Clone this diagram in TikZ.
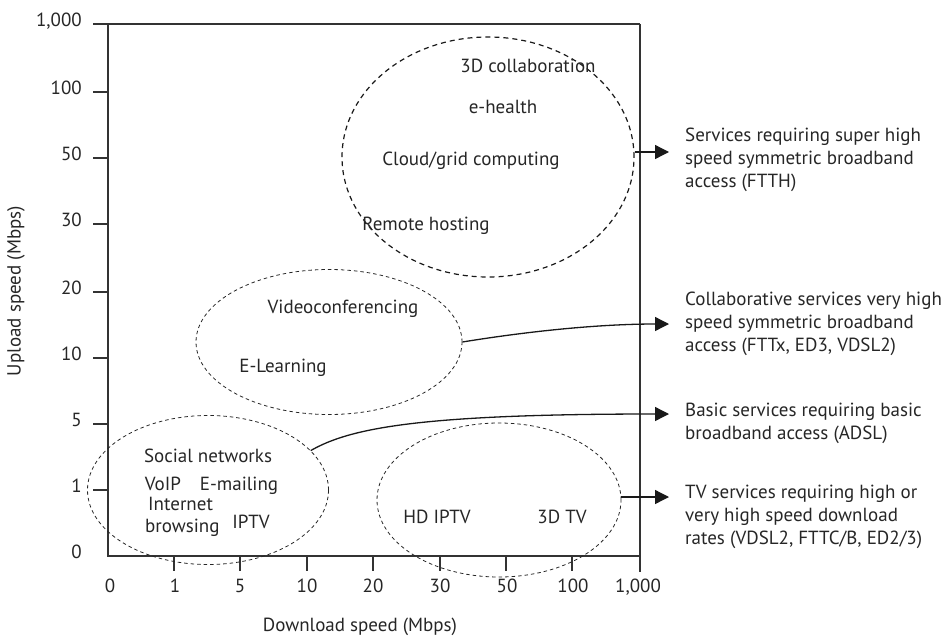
\documentclass[tikz,border=0pt]{standalone}
\usepackage{fontspec}
\setmainfont{PT Sans}
\usetikzlibrary{arrows.meta,shapes.geometric}
\begin{document}
\begin{tikzpicture}[x=1pt,y=-1pt,
  every node/.style={font=\fontsize{19}{23}\selectfont, text=black!85, inner sep=0pt},
  axisline/.style={line width=1.3pt, draw=black!80},
  tickline/.style={line width=1.3pt, draw=black!80},
  bubble/.style={ellipse, draw=black!85, line width=0.8pt, dash pattern=on 3.5pt off 3pt, minimum width=#1},
  bigbubble/.style={ellipse, draw=black!90, line width=1.2pt, dash pattern=on 5pt off 4pt},
  lbl/.style={text height=0.72em, text depth=0.22em},
  desc/.style={anchor=west, align=left, font=\fontsize{19}{23}\selectfont},
  conn/.style={line width=1.3pt, draw=black!90, -{Triangle[length=14pt,width=14pt]}},
  ylab/.style={anchor=east, lbl},
  xlab/.style={anchor=center, lbl}
]
\path[use as bounding box] (0,0) rectangle (949,642);

% frame and axes
\draw[axisline] (93,24) -- (640,24);
\draw[axisline] (108,24) -- (108,556) -- (640,556);
\draw[axisline] (640,24) -- (640,572);
\foreach \yy in {92,158,224,292,358,424,490} \draw[tickline] (93,\yy) -- (108,\yy);
\foreach \xx in {174,240,307,373,440,506,572} \draw[tickline] (\xx,556) -- (\xx,571);

% y tick labels
\node[ylab] (y1000) at (82,24) {1,000};
\node[ylab] (y100) at (82,92) {100};
\node[ylab] (y50) at (82,158) {50};
\node[ylab] (y30) at (82,224) {30};
\node[ylab] (y20) at (82,292) {20};
\node[ylab] (y10) at (82,358) {10};
\node[ylab] (y5) at (82,424) {5};
\node[ylab] (y1) at (82,490) {1};
\node[ylab] (y0) at (82,556) {0};

% x tick labels
\node[xlab] (x0) at (110,590) {0};
\node[xlab] (x1) at (175,590) {1};
\node[xlab] (x5) at (240,590) {5};
\node[xlab] (x10) at (307,590) {10};
\node[xlab] (x20) at (373,590) {20};
\node[xlab] (x30) at (440,590) {30};
\node[xlab] (x50) at (507,590) {50};
\node[xlab] (x100) at (573,590) {100};
\node[xlab] (x1000) at (638,590) {1,000};

% axis titles
\node[lbl] (xtitle) at (360,629) {Download speed (Mbps)};
\node[lbl, rotate=90] (ytitle) at (18,291) {Upload speed (Mbps)};

% bubbles
\node[bigbubble, minimum width=292pt, minimum height=240pt] (e1) at (488,157) {};
\node[bubble=266pt, minimum height=145pt] (e2) at (329,342) {};
\node[bubble=241pt, minimum height=149pt] (e3) at (208,490) {};
\node[bubble=244pt, minimum height=154pt] (e4) at (499,500) {};

% bubble contents
\node[lbl] (t3d) at (528,70) {3D collaboration};
\node[lbl] (tehealth) at (503,111) {e-health};
\node[lbl] (tcloud) at (471,163) {Cloud/grid computing};
\node[lbl] (tremote) at (426,228) {Remote hosting};
\node[lbl] (tvideo) at (343,311) {Videoconferencing};
\node[lbl] (telearn) at (283,370) {E-Learning};
\node[lbl] (tsocial) at (208,460) {Social networks};
\node[lbl] (tvoip) at (163,488) {VoIP};
\node[lbl] (temail) at (239,488) {E-mailing};
\node[lbl, anchor=west] (tinternet) at (148,508) {Internet};
\node[lbl, anchor=west] (tbrowsing) at (145,530) {browsing};
\node[lbl] (tiptv) at (251,526) {IPTV};
\node[lbl] (thdiptv) at (437,521) {HD IPTV};
\node[lbl] (t3dtv) at (562,521) {3D TV};

% descriptions
\node[desc] (d1) at (685,160) {Services requiring super high\\speed symmetric broadband\\access (FTTH)};
\node[desc] (d2) at (685,324) {Collaborative services very high\\speed symmetric broadband\\access (FTTx, ED3, VDSL2)};
\node[desc] (d3) at (685,423) {Basic services requiring basic\\broadband access (ADSL)};
\node[desc] (d4) at (685,517) {TV services requiring high or\\very high speed download\\rates (VDSL2, FTTC/B, ED2/3)};

% arrow ends
\coordinate (a1) at (669,152);
\coordinate (a2) at (669,324);
\coordinate (a3) at (669,414);
\coordinate (a4) at (669,497);

% connectors
\draw[conn] (e1.east |- a1) -- (a1);
\draw[conn] (e2.east) .. controls (530,331) and (600,324) .. (a2);
\draw[conn] (e3.21) .. controls (350,428) and (420,414) .. (a3);
\draw[conn] (e4.east |- a4) -- (a4);
\end{tikzpicture}
\end{document}
